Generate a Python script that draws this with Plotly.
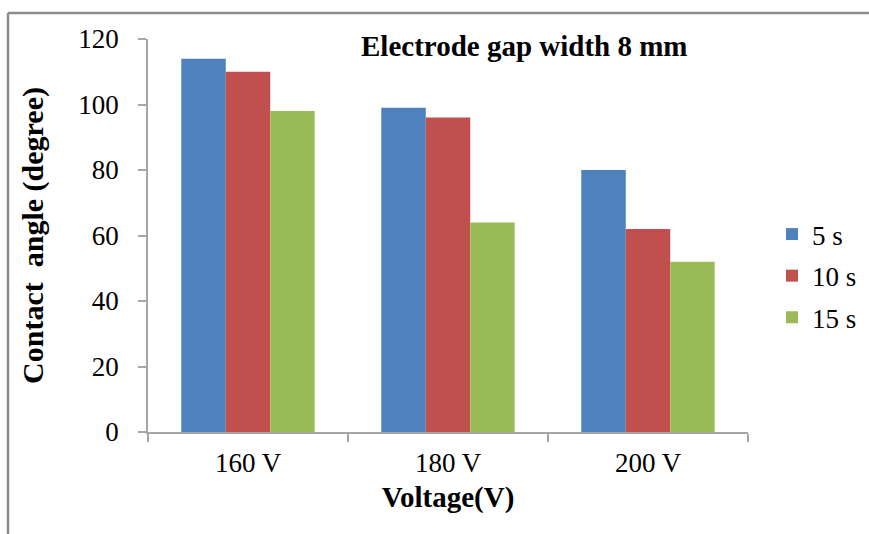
import plotly.graph_objects as go

categories = ["160 V", "180 V", "200 V"]
series_names = ["5 s", "10 s", "15 s"]
values_5s = [114, 99, 80]
values_10s = [110, 96, 62]
values_15s = [98, 64, 52]
colors = ["#4F81BD", "#C0504D", "#9BBB59"]

W, H = 869, 534
L, R, T, B = 148, 121, 39, 102
pw, ph = W - L - R, H - T - B

def px_x(x):
    return (x - L) / pw

def px_y(y):
    return (H - B - y) / ph

FONT = "Liberation Serif, Times New Roman, serif"
fig = go.Figure()
for i, (name, vals) in enumerate(zip(series_names, [values_5s, values_10s, values_15s])):
    fig.add_trace(go.Bar(
        x=categories, y=vals, name=name, marker_color=colors[i],
        marker_line_width=0, legendgroup=f"g{i}"
    ))

fig.update_layout(
    width=W, height=H,
    margin=dict(l=L, r=R, t=T, b=B, pad=0, autoexpand=False),
    paper_bgcolor="white", plot_bgcolor="white",
    barmode="group", bargap=0.333, bargroupgap=0,
    font=dict(family=FONT, color="black", size=27),
    showlegend=True,
    legend=dict(
        x=px_x(772), y=px_y(210), xanchor="left", yanchor="top",
        font=dict(family=FONT, size=27, color="black"),
        traceorder="grouped", tracegroupgap=3.5,
        itemwidth=30, bgcolor="rgba(0,0,0,0)",
    ),
    xaxis=dict(
        automargin=False,
        showline=True, linecolor="#A6A6A6", linewidth=1.5,
        ticks="outside", tickson="boundaries", ticklen=8, tickcolor="#A6A6A6",
        tickwidth=1.5, tickfont=dict(family=FONT, size=27, color="black"),
        ticklabelstandoff=6,
        title=dict(text="<b>Voltage(V)</b>", font=dict(family=FONT, size=29, color="black"), standoff=10),
        showgrid=False, zeroline=False,
    ),
    yaxis=dict(
        automargin=False,
        range=[0, 120], dtick=20, tick0=0,
        showline=True, linecolor="#A6A6A6", linewidth=1.5,
        ticks="outside", ticklen=8, tickcolor="#A6A6A6", tickwidth=1.5,
        tickfont=dict(family=FONT, size=27, color="black"),
        ticklabelstandoff=14,
        title=dict(text="<b>Contact  angle (degree)</b>", font=dict(family=FONT, size=30, color="black"), standoff=26),
        showgrid=False, zeroline=False,
    ),
    annotations=[dict(
        text="<b>Electrode gap width 8 mm</b>", xref="paper", yref="paper",
        x=px_x(524), y=px_y(46), xanchor="center", yanchor="middle",
        showarrow=False, font=dict(family=FONT, size=29, color="black"),
    )],
    shapes=[
        dict(type="line", xref="paper", yref="paper",
             x0=px_x(8), x1=px_x(W + 5), y0=px_y(13), y1=px_y(13),
             line=dict(color="#8C8C8C", width=2.5)),
        dict(type="line", xref="paper", yref="paper",
             x0=px_x(8), x1=px_x(8), y0=px_y(13), y1=px_y(H + 5),
             line=dict(color="#8C8C8C", width=2.5)),
    ],
)

fig.write_html("out.html")
